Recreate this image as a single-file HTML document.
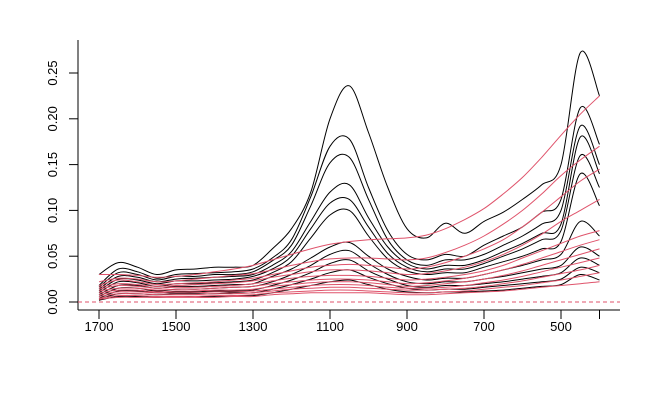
<!DOCTYPE html>
<html><head><meta charset="utf-8"><style>
body{margin:0;background:#fff}
svg{display:block;font-family:"Liberation Sans",sans-serif}
</style></head><body>
<svg id="chart" width="661" height="408" xmlns="http://www.w3.org/2000/svg">
<g id="axes"></g><g id="series"></g>
</svg>
<script>
const wavenumbers=[1700,1650,1600,1550,1500,1450,1400,1350,1300,1250,1200,1150,1100,1050,1000,950,900,850,800,750,700,650,600,550,500,450,400];
const xTicks=[1700,1500,1300,1100,900,700,500];
const yTicks=[0,0.05,0.10,0.15,0.20,0.25];
const yTickLabels=["0.00","0.05","0.10","0.15","0.20","0.25"];
const blackSeries=[
[0.030,0.043,0.038,0.030,0.035,0.036,0.038,0.038,0.040,0.058,0.080,0.120,0.200,0.236,0.185,0.125,0.080,0.070,0.086,0.075,0.088,0.098,0.112,0.128,0.150,0.272,0.225],
[0.018,0.036,0.033,0.026,0.030,0.031,0.032,0.033,0.036,0.048,0.068,0.115,0.170,0.178,0.125,0.078,0.052,0.046,0.052,0.050,0.062,0.072,0.082,0.098,0.112,0.212,0.172],
[0.016,0.032,0.030,0.024,0.028,0.028,0.030,0.030,0.033,0.045,0.062,0.105,0.152,0.158,0.112,0.068,0.046,0.040,0.046,0.046,0.052,0.062,0.072,0.085,0.100,0.192,0.150],
[0.014,0.028,0.027,0.022,0.025,0.026,0.027,0.028,0.030,0.040,0.055,0.088,0.120,0.128,0.092,0.060,0.042,0.036,0.040,0.040,0.046,0.055,0.064,0.075,0.085,0.180,0.140],
[0.012,0.025,0.024,0.020,0.023,0.023,0.024,0.025,0.028,0.036,0.050,0.080,0.108,0.112,0.082,0.053,0.038,0.033,0.036,0.036,0.042,0.050,0.058,0.068,0.078,0.160,0.125],
[0.010,0.022,0.021,0.017,0.020,0.020,0.021,0.022,0.024,0.032,0.044,0.070,0.095,0.100,0.072,0.047,0.034,0.030,0.032,0.032,0.038,0.044,0.050,0.058,0.066,0.140,0.105],
[0.008,0.018,0.018,0.015,0.017,0.017,0.018,0.019,0.020,0.028,0.036,0.048,0.060,0.065,0.050,0.036,0.028,0.024,0.026,0.026,0.030,0.035,0.040,0.046,0.052,0.088,0.072],
[0.006,0.015,0.015,0.012,0.014,0.014,0.015,0.016,0.017,0.022,0.030,0.040,0.052,0.056,0.042,0.030,0.022,0.020,0.022,0.022,0.025,0.028,0.032,0.036,0.040,0.060,0.050],
[0.004,0.012,0.012,0.010,0.011,0.011,0.012,0.012,0.013,0.018,0.024,0.032,0.042,0.046,0.034,0.025,0.018,0.016,0.018,0.018,0.020,0.022,0.025,0.028,0.032,0.048,0.040],
[0.003,0.009,0.009,0.008,0.009,0.009,0.009,0.010,0.010,0.014,0.019,0.025,0.032,0.035,0.027,0.020,0.015,0.013,0.014,0.014,0.016,0.018,0.020,0.022,0.025,0.038,0.032],
[0.002,0.006,0.006,0.005,0.006,0.006,0.006,0.007,0.007,0.010,0.014,0.018,0.022,0.024,0.019,0.014,0.011,0.010,0.011,0.011,0.012,0.013,0.015,0.017,0.019,0.030,0.024]
];
const redSeries=[
[0.030,0.030,0.029,0.027,0.028,0.030,0.033,0.036,0.040,0.046,0.052,0.058,0.063,0.066,0.068,0.069,0.070,0.073,0.080,0.090,0.102,0.118,0.136,0.158,0.182,0.205,0.225],
[0.022,0.026,0.025,0.022,0.023,0.025,0.027,0.029,0.031,0.035,0.040,0.044,0.047,0.048,0.048,0.047,0.046,0.048,0.054,0.062,0.072,0.085,0.100,0.118,0.138,0.155,0.170],
[0.018,0.024,0.022,0.019,0.020,0.021,0.022,0.024,0.026,0.030,0.034,0.038,0.040,0.041,0.040,0.038,0.036,0.038,0.043,0.050,0.058,0.068,0.082,0.098,0.115,0.132,0.145],
[0.016,0.020,0.019,0.017,0.018,0.019,0.020,0.021,0.023,0.027,0.030,0.033,0.035,0.035,0.034,0.032,0.030,0.031,0.034,0.038,0.044,0.052,0.062,0.074,0.088,0.100,0.112],
[0.014,0.018,0.017,0.015,0.016,0.016,0.017,0.018,0.020,0.023,0.026,0.028,0.029,0.029,0.028,0.026,0.024,0.025,0.027,0.030,0.034,0.040,0.048,0.056,0.064,0.072,0.078],
[0.012,0.015,0.015,0.013,0.014,0.014,0.015,0.016,0.017,0.020,0.022,0.024,0.025,0.025,0.024,0.022,0.020,0.021,0.023,0.026,0.030,0.035,0.041,0.048,0.055,0.062,0.068],
[0.010,0.013,0.013,0.011,0.012,0.012,0.013,0.013,0.014,0.017,0.019,0.021,0.022,0.022,0.021,0.019,0.017,0.018,0.020,0.022,0.025,0.029,0.034,0.040,0.046,0.052,0.058],
[0.008,0.011,0.011,0.010,0.010,0.010,0.011,0.011,0.012,0.014,0.016,0.018,0.019,0.019,0.018,0.016,0.015,0.015,0.016,0.018,0.021,0.024,0.028,0.033,0.038,0.043,0.048],
[0.006,0.009,0.009,0.008,0.008,0.008,0.009,0.009,0.010,0.012,0.014,0.015,0.016,0.016,0.015,0.014,0.013,0.013,0.014,0.015,0.017,0.020,0.023,0.027,0.031,0.035,0.040],
[0.004,0.007,0.007,0.006,0.006,0.006,0.007,0.007,0.008,0.010,0.011,0.012,0.013,0.013,0.012,0.011,0.010,0.010,0.011,0.012,0.014,0.016,0.018,0.021,0.024,0.028,0.032],
[0.003,0.005,0.005,0.005,0.005,0.005,0.005,0.006,0.006,0.008,0.009,0.010,0.010,0.010,0.010,0.009,0.008,0.008,0.009,0.010,0.011,0.012,0.014,0.016,0.018,0.020,0.022]
];
const NS="http://www.w3.org/2000/svg";
function xs(w){return 99+(1700-w)*0.385;}
function ys(v){return 302-v*916;}
function mk(tag,attrs,parent){const e=document.createElementNS(NS,tag);for(const k in attrs)e.setAttribute(k,attrs[k]);parent.appendChild(e);return e;}
const axes=document.getElementById('axes');
const ser=document.getElementById('series');
let e=mk('line',{x1:78,y1:40,x2:78,y2:310,stroke:'#000'},axes);


e=mk('line',{x1:78,y1:310,x2:620,y2:310,stroke:'#000'},axes);


xTicks.concat([400]).forEach(t=>{
  const l=mk('line',{x1:xs(t),y1:310,x2:xs(t),y2:319,stroke:'#000'},axes);
  
  
});
xTicks.forEach(t=>{
  const tx=mk('text',{x:xs(t),y:331,'text-anchor':'middle','font-size':13,fill:'#000'},axes);
  tx.textContent=t;
  
  
});
yTicks.forEach((t,i)=>{
  const l=mk('line',{x1:69,y1:ys(t),x2:78,y2:ys(t),stroke:'#000'},axes);
  
  
  const tx=mk('text',{x:0,y:0,'text-anchor':'middle','font-size':13,fill:'#000',transform:`translate(57,${ys(t)}) rotate(-90)`},axes);
  tx.textContent=yTickLabels[i];
  
  
});
function path(vals){
  const p=vals.map((v,i)=>[xs(wavenumbers[i]),ys(v)]);
  let d='M'+p[0][0].toFixed(1)+','+p[0][1].toFixed(1);
  for(let i=0;i<p.length-1;i++){
    const p0=p[Math.max(0,i-1)],p1=p[i],p2=p[i+1],p3=p[Math.min(p.length-1,i+2)];
    const c1x=p1[0]+(p2[0]-p0[0])/6,c1y=p1[1]+(p2[1]-p0[1])/6;
    const c2x=p2[0]-(p3[0]-p1[0])/6,c2y=p2[1]-(p3[1]-p1[1])/6;
    d+=` C${c1x.toFixed(1)},${c1y.toFixed(1)} ${c2x.toFixed(1)},${c2y.toFixed(1)} ${p2[0].toFixed(1)},${p2[1].toFixed(1)}`;
  }
  return d;
}
blackSeries.forEach(s=>{
  const p=mk('path',{d:path(s),fill:'none',stroke:'#000','stroke-width':1},ser);
  
  
});
redSeries.forEach(s=>{
  const p=mk('path',{d:path(s),fill:'none',stroke:'#DF536B','stroke-width':1},ser);
  
  
});
e=mk('line',{x1:78,y1:ys(0),x2:620,y2:ys(0),stroke:'#DF536B','stroke-dasharray':'4,3'},ser);


</script>
</body></html>
